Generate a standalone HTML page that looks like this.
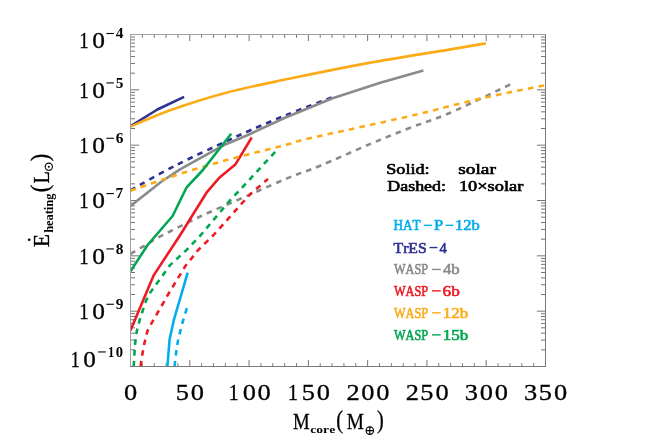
<!DOCTYPE html>
<html><head><meta charset="utf-8"><title>chart</title>
<style>html,body{margin:0;padding:0;background:#fff;}svg{display:block;will-change:transform;}text{font-family:"Liberation Serif",serif;font-kerning:none;font-variant-ligatures:none;}</style></head><body>
<svg width="654" height="436" viewBox="0 0 654 436">
<rect width="654" height="436" fill="#fff"/>
<path d="M130.50 366.50h8.6M545.50 366.50h-8.6M130.50 349.84h4.5M545.50 349.84h-4.5M130.50 340.10h4.5M545.50 340.10h-4.5M130.50 333.19h4.5M545.50 333.19h-4.5M130.50 327.82h4.5M545.50 327.82h-4.5M130.50 323.44h4.5M545.50 323.44h-4.5M130.50 319.74h4.5M545.50 319.74h-4.5M130.50 316.53h4.5M545.50 316.53h-4.5M130.50 313.70h4.5M545.50 313.70h-4.5M130.50 311.17h8.6M545.50 311.17h-8.6M130.50 294.51h4.5M545.50 294.51h-4.5M130.50 284.77h4.5M545.50 284.77h-4.5M130.50 277.85h4.5M545.50 277.85h-4.5M130.50 272.49h4.5M545.50 272.49h-4.5M130.50 268.11h4.5M545.50 268.11h-4.5M130.50 264.40h4.5M545.50 264.40h-4.5M130.50 261.20h4.5M545.50 261.20h-4.5M130.50 258.37h4.5M545.50 258.37h-4.5M130.50 255.83h8.6M545.50 255.83h-8.6M130.50 239.18h4.5M545.50 239.18h-4.5M130.50 229.43h4.5M545.50 229.43h-4.5M130.50 222.52h4.5M545.50 222.52h-4.5M130.50 217.16h4.5M545.50 217.16h-4.5M130.50 212.78h4.5M545.50 212.78h-4.5M130.50 209.07h4.5M545.50 209.07h-4.5M130.50 205.86h4.5M545.50 205.86h-4.5M130.50 203.03h4.5M545.50 203.03h-4.5M130.50 200.50h8.6M545.50 200.50h-8.6M130.50 183.84h4.5M545.50 183.84h-4.5M130.50 174.10h4.5M545.50 174.10h-4.5M130.50 167.19h4.5M545.50 167.19h-4.5M130.50 161.82h4.5M545.50 161.82h-4.5M130.50 157.44h4.5M545.50 157.44h-4.5M130.50 153.74h4.5M545.50 153.74h-4.5M130.50 150.53h4.5M545.50 150.53h-4.5M130.50 147.70h4.5M545.50 147.70h-4.5M130.50 145.17h8.6M545.50 145.17h-8.6M130.50 128.51h4.5M545.50 128.51h-4.5M130.50 118.77h4.5M545.50 118.77h-4.5M130.50 111.85h4.5M545.50 111.85h-4.5M130.50 106.49h4.5M545.50 106.49h-4.5M130.50 102.11h4.5M545.50 102.11h-4.5M130.50 98.40h4.5M545.50 98.40h-4.5M130.50 95.20h4.5M545.50 95.20h-4.5M130.50 92.37h4.5M545.50 92.37h-4.5M130.50 89.83h8.6M545.50 89.83h-8.6M130.50 73.18h4.5M545.50 73.18h-4.5M130.50 63.43h4.5M545.50 63.43h-4.5M130.50 56.52h4.5M545.50 56.52h-4.5M130.50 51.16h4.5M545.50 51.16h-4.5M130.50 46.78h4.5M545.50 46.78h-4.5M130.50 43.07h4.5M545.50 43.07h-4.5M130.50 39.86h4.5M545.50 39.86h-4.5M130.50 37.03h4.5M545.50 37.03h-4.5M130.50 34.50h8.6M545.50 34.50h-8.6M130.50 366.50v-6.6M130.50 34.50v6.6M142.36 366.50v-3.3M142.36 34.50v3.3M154.21 366.50v-3.3M154.21 34.50v3.3M166.07 366.50v-3.3M166.07 34.50v3.3M177.93 366.50v-3.3M177.93 34.50v3.3M189.79 366.50v-6.6M189.79 34.50v6.6M201.64 366.50v-3.3M201.64 34.50v3.3M213.50 366.50v-3.3M213.50 34.50v3.3M225.36 366.50v-3.3M225.36 34.50v3.3M237.21 366.50v-3.3M237.21 34.50v3.3M249.07 366.50v-6.6M249.07 34.50v6.6M260.93 366.50v-3.3M260.93 34.50v3.3M272.79 366.50v-3.3M272.79 34.50v3.3M284.64 366.50v-3.3M284.64 34.50v3.3M296.50 366.50v-3.3M296.50 34.50v3.3M308.36 366.50v-6.6M308.36 34.50v6.6M320.21 366.50v-3.3M320.21 34.50v3.3M332.07 366.50v-3.3M332.07 34.50v3.3M343.93 366.50v-3.3M343.93 34.50v3.3M355.79 366.50v-3.3M355.79 34.50v3.3M367.64 366.50v-6.6M367.64 34.50v6.6M379.50 366.50v-3.3M379.50 34.50v3.3M391.36 366.50v-3.3M391.36 34.50v3.3M403.21 366.50v-3.3M403.21 34.50v3.3M415.07 366.50v-3.3M415.07 34.50v3.3M426.93 366.50v-6.6M426.93 34.50v6.6M438.79 366.50v-3.3M438.79 34.50v3.3M450.64 366.50v-3.3M450.64 34.50v3.3M462.50 366.50v-3.3M462.50 34.50v3.3M474.36 366.50v-3.3M474.36 34.50v3.3M486.21 366.50v-6.6M486.21 34.50v6.6M498.07 366.50v-3.3M498.07 34.50v3.3M509.93 366.50v-3.3M509.93 34.50v3.3M521.79 366.50v-3.3M521.79 34.50v3.3M533.64 366.50v-3.3M533.64 34.50v3.3M545.50 366.50v-6.6M545.50 34.50v6.6" stroke="#000" stroke-width="0.55" fill="none"/>
<clipPath id="c"><rect x="130.5" y="34.5" width="415.00" height="332.00"/></clipPath>
<g clip-path="url(#c)" fill="none" stroke-width="2.6" stroke-linejoin="round">
<path d="M167.4 366.4L168.4 353.8L169.6 339.5L173.8 320.2L179.7 300.0L187.7 272.6" stroke="#00aeef"/>
<path d="M174.6 366.4L175.5 357.2L178.0 340.4L182.2 323.5L186.9 308.1" stroke="#00aeef" stroke-dasharray="5.6 5.2"/>
<path d="M130.6 126.1L157.4 109.5L184.1 96.9" stroke="#2e3192"/>
<path d="M130.6 190.2C138.0 186.1 159.4 173.7 175.2 165.6C191.0 157.5 214.0 147.1 225.3 141.8C236.6 136.5 233.0 138.0 242.9 133.6C252.8 129.2 270.1 121.6 285.0 115.5C299.9 109.4 324.7 100.1 332.6 97.0" stroke="#2e3192" stroke-dasharray="5.6 5.2"/>
<path d="M130.5 206.0L160.9 182.0L180.0 169.3L207.5 154.2L225.9 144.2L247.9 135.0L285.0 117.8L332.6 98.2L380.3 82.7L423.4 70.4" stroke="#8a8a8a"/>
<path d="M130.5 253.8C133.8 251.9 145.5 245.2 150.0 242.5C154.5 239.8 149.2 242.1 157.6 237.8C166.0 233.5 184.7 223.7 200.2 216.5C215.7 209.3 235.6 200.9 250.4 194.4C265.2 187.9 277.4 182.4 289.0 177.6C300.6 172.8 306.6 171.3 320.2 165.7C333.8 160.1 355.6 150.2 370.4 143.9C385.2 137.7 395.9 133.3 409.0 128.2C422.1 123.1 432.0 120.6 449.0 113.3C466.0 106.0 500.6 89.0 510.9 84.2" stroke="#8a8a8a" stroke-dasharray="5.6 5.2"/>
<path d="M130.5 330.5L153.8 275.1L180.2 235.0L206.5 192.7L219.0 178.1L235.3 164.6L251.7 137.5" stroke="#ed1c24"/>
<path d="M140.6 366.4L141.8 357.2L144.3 343.7L147.4 331.1L152.8 321.0L164.5 300.8L167.6 295.2L185.2 266.3L198.2 250.0L213.6 235.0L250.4 193.9L268.0 179.0" stroke="#ed1c24" stroke-dasharray="5.6 5.2"/>
<path d="M130.6 126.6C137.2 123.9 154.3 115.8 170.1 110.2C185.9 104.6 205.5 98.1 225.3 92.9C245.1 87.7 265.3 83.8 289.0 78.8C312.7 73.8 341.0 68.0 367.7 63.1C394.4 58.2 429.3 52.9 449.0 49.6C468.7 46.3 479.8 44.4 485.9 43.4" stroke="#fbab18"/>
<path d="M130.6 190.7C135.9 188.8 151.0 183.4 162.6 179.6C174.2 175.8 187.7 171.3 200.2 167.6C212.7 163.8 223.0 161.0 237.8 157.1C252.6 153.2 277.2 147.2 289.0 144.1C300.8 141.0 288.8 143.1 308.8 138.5C328.8 133.9 385.6 121.7 409.0 116.3C432.4 110.9 435.5 109.6 449.0 106.3C462.5 103.0 474.1 99.9 490.1 96.4C506.2 92.9 536.1 87.1 545.3 85.2" stroke="#fbab18" stroke-dasharray="5.6 5.2"/>
<path d="M130.5 271.4L147.6 245.0L172.6 216.0L186.4 187.7L202.9 170.0L231.2 133.7" stroke="#00a651"/>
<path d="M133.7 366.4L134.3 355.5L135.1 343.7L136.8 331.1L140.1 318.5L146.0 300.8L150.1 292.7L170.1 265.1L186.5 250.0L200.8 235.0L230.3 200.0L244.9 184.6L276.6 150.3" stroke="#00a651" stroke-dasharray="5.6 5.2"/>
</g>
<path d="M130.5 34.0V367.0M130.0 34.5H546.0" stroke="#a0a0a0" stroke-width="1" fill="none"/>
<path d="M545.5 34.0V367.0M130.0 366.5H546.0" stroke="#787878" stroke-width="1" fill="none"/>
<text transform="translate(79.36,48.20) scale(0.8261,1.0000)" font-size="22.90" stroke="#000" stroke-width="0.3">1</text>
<text transform="translate(92.15,48.20) scale(1.1086,1.0000)" font-size="22.90" stroke="#000" stroke-width="0.3">0</text>
<path d="M106.4 33.50H113.9" stroke="#000" stroke-width="1.1"/>
<text transform="translate(115.84,37.90) scale(1.0500,1.0000)" font-size="14.65" font-weight="bold">4</text>
<text transform="translate(79.36,97.63) scale(0.8261,1.0000)" font-size="22.90" stroke="#000" stroke-width="0.3">1</text>
<text transform="translate(92.15,97.63) scale(1.1086,1.0000)" font-size="22.90" stroke="#000" stroke-width="0.3">0</text>
<path d="M106.4 82.93H113.9" stroke="#000" stroke-width="1.1"/>
<text transform="translate(115.78,87.73) scale(1.0500,1.0000)" font-size="14.65" font-weight="bold">5</text>
<text transform="translate(79.36,152.97) scale(0.8261,1.0000)" font-size="22.90" stroke="#000" stroke-width="0.3">1</text>
<text transform="translate(92.15,152.97) scale(1.1086,1.0000)" font-size="22.90" stroke="#000" stroke-width="0.3">0</text>
<path d="M106.4 138.27H113.9" stroke="#000" stroke-width="1.1"/>
<text transform="translate(115.77,143.07) scale(1.0500,1.0000)" font-size="14.65" font-weight="bold">6</text>
<text transform="translate(79.36,208.30) scale(0.8261,1.0000)" font-size="22.90" stroke="#000" stroke-width="0.3">1</text>
<text transform="translate(92.15,208.30) scale(1.1086,1.0000)" font-size="22.90" stroke="#000" stroke-width="0.3">0</text>
<path d="M106.4 193.60H113.9" stroke="#000" stroke-width="1.1"/>
<text transform="translate(115.55,198.40) scale(1.0500,1.0000)" font-size="14.65" font-weight="bold">7</text>
<text transform="translate(79.36,263.63) scale(0.8261,1.0000)" font-size="22.90" stroke="#000" stroke-width="0.3">1</text>
<text transform="translate(92.15,263.63) scale(1.1086,1.0000)" font-size="22.90" stroke="#000" stroke-width="0.3">0</text>
<path d="M106.4 248.93H113.9" stroke="#000" stroke-width="1.1"/>
<text transform="translate(115.80,253.73) scale(1.0500,1.0000)" font-size="14.65" font-weight="bold">8</text>
<text transform="translate(79.36,318.97) scale(0.8261,1.0000)" font-size="22.90" stroke="#000" stroke-width="0.3">1</text>
<text transform="translate(92.15,318.97) scale(1.1086,1.0000)" font-size="22.90" stroke="#000" stroke-width="0.3">0</text>
<path d="M106.4 304.27H113.9" stroke="#000" stroke-width="1.1"/>
<text transform="translate(115.87,309.07) scale(1.0500,1.0000)" font-size="14.65" font-weight="bold">9</text>
<text transform="translate(70.56,366.85) scale(0.8261,1.0000)" font-size="22.90" stroke="#000" stroke-width="0.3">1</text>
<text transform="translate(83.36,366.85) scale(1.0983,1.0000)" font-size="22.90" stroke="#000" stroke-width="0.3">0</text>
<path d="M98.0 351.95H105.8" stroke="#000" stroke-width="1.1"/>
<text transform="translate(107.90,356.55) scale(0.8529,1.0000)" font-size="14.65" font-weight="bold">1</text>
<text transform="translate(115.84,356.55) scale(0.9985,1.0000)" font-size="14.65" font-weight="bold">0</text>
<text transform="translate(124.09,400.00) scale(1.0965,1.0000)" font-size="24.10" stroke="#000" stroke-width="0.3">0</text>
<text transform="translate(175.69,400.00) scale(1.0953,1.0000)" font-size="24.10" stroke="#000" stroke-width="0.3">5</text>
<text transform="translate(190.83,400.00) scale(1.0965,1.0000)" font-size="24.10" stroke="#000" stroke-width="0.3">0</text>
<text transform="translate(228.58,400.00) scale(0.8557,1.0000)" font-size="24.10" stroke="#000" stroke-width="0.3">1</text>
<text transform="translate(242.66,400.00) scale(1.0965,1.0000)" font-size="24.10" stroke="#000" stroke-width="0.3">0</text>
<text transform="translate(257.56,400.00) scale(1.0965,1.0000)" font-size="24.10" stroke="#000" stroke-width="0.3">0</text>
<text transform="translate(287.86,400.00) scale(0.8557,1.0000)" font-size="24.10" stroke="#000" stroke-width="0.3">1</text>
<text transform="translate(301.71,400.00) scale(1.0953,1.0000)" font-size="24.10" stroke="#000" stroke-width="0.3">5</text>
<text transform="translate(316.85,400.00) scale(1.0965,1.0000)" font-size="24.10" stroke="#000" stroke-width="0.3">0</text>
<text transform="translate(346.49,400.00) scale(1.0952,1.0000)" font-size="24.10" stroke="#000" stroke-width="0.3">2</text>
<text transform="translate(361.24,400.00) scale(1.0965,1.0000)" font-size="24.10" stroke="#000" stroke-width="0.3">0</text>
<text transform="translate(376.14,400.00) scale(1.0965,1.0000)" font-size="24.10" stroke="#000" stroke-width="0.3">0</text>
<text transform="translate(405.78,400.00) scale(1.0952,1.0000)" font-size="24.10" stroke="#000" stroke-width="0.3">2</text>
<text transform="translate(420.28,400.00) scale(1.0953,1.0000)" font-size="24.10" stroke="#000" stroke-width="0.3">5</text>
<text transform="translate(435.42,400.00) scale(1.0965,1.0000)" font-size="24.10" stroke="#000" stroke-width="0.3">0</text>
<text transform="translate(464.80,400.00) scale(1.0959,1.0000)" font-size="24.10" stroke="#000" stroke-width="0.3">3</text>
<text transform="translate(479.81,400.00) scale(1.0965,1.0000)" font-size="24.10" stroke="#000" stroke-width="0.3">0</text>
<text transform="translate(494.71,400.00) scale(1.0965,1.0000)" font-size="24.10" stroke="#000" stroke-width="0.3">0</text>
<text transform="translate(524.08,400.00) scale(1.0959,1.0000)" font-size="24.10" stroke="#000" stroke-width="0.3">3</text>
<text transform="translate(538.85,400.00) scale(1.0953,1.0000)" font-size="24.10" stroke="#000" stroke-width="0.3">5</text>
<text transform="translate(553.99,400.00) scale(1.0965,1.0000)" font-size="24.10" stroke="#000" stroke-width="0.3">0</text>
<text transform="translate(292.88,429.25) scale(0.7892,1.0000)" font-size="23.80" stroke="#000" stroke-width="0.3">M</text>
<text transform="translate(310.29,432.80) scale(1.2147,1.0000)" font-size="11.20" font-weight="bold">core</text>
<text transform="translate(336.24,428.23) scale(1.0318,1.2959)" font-size="20.0" stroke="#000" stroke-width="0.25">(</text>
<text transform="translate(346.71,429.25) scale(0.8120,1.0000)" font-size="23.80" stroke="#000" stroke-width="0.3">M</text>
<g stroke="#000" stroke-width="1.1" fill="none"><circle cx="369.8" cy="430.6" r="3.75"/><path d="M366 430.6h7.6M369.8 426.8v7.6"/></g>
<text transform="translate(377.00,428.23) scale(1.0123,1.2959)" font-size="20.0" stroke="#000" stroke-width="0.25">)</text>
<g transform="translate(48.85,246.75) rotate(-90)">
<text transform="translate(-0.51,0.00) scale(0.9740,1.0000)" font-size="22.30" stroke="#000" stroke-width="0.3">E</text>
<circle cx="6.95" cy="-19.65" r="1.3" fill="#000"/>
<text transform="translate(13.89,3.85) scale(1.0771,1.0000)" font-size="11.50" font-weight="bold">heating</text>
<text transform="translate(54.41,-0.81) scale(1.1291,1.2242)" font-size="20.0" stroke="#000" stroke-width="0.25">(</text>
<text transform="translate(63.14,0.00) scale(0.9072,1.0000)" font-size="22.30" stroke="#000" stroke-width="0.3">L</text>
<circle cx="80.05" cy="-0.05" r="3.6" stroke="#000" stroke-width="1.1" fill="none"/><circle cx="80.05" cy="-0.05" r="1" fill="#000"/>
<text transform="translate(85.57,-0.81) scale(1.1291,1.2242)" font-size="20.0" stroke="#000" stroke-width="0.25">)</text>
</g>
<text transform="translate(386.27,173.75) scale(1.2442,1.0000)" font-size="14.60" stroke="#000" stroke-width="0.6">Solid:</text>
<text transform="translate(458.30,173.75) scale(1.3243,1.0000)" font-size="14.60" stroke="#000" stroke-width="0.6">solar</text>
<text transform="translate(387.27,191.25) scale(1.2289,1.0000)" font-size="14.60" stroke="#000" stroke-width="0.6">Dashed:</text>
<text transform="translate(458.88,191.25) scale(1.2574,1.0000)" font-size="14.60" stroke="#000" stroke-width="0.6">10×solar</text>
<text transform="translate(393.46,230.30) scale(0.9055,1.0000)" font-size="14.60" stroke="#00aeef" stroke-width="0.6" fill="#00aeef">HAT</text><path d="M423.75 225.35H432.05" stroke="#00aeef" stroke-width="1.4"/><text transform="translate(433.91,230.30) scale(1.1413,1.0000)" font-size="14.60" stroke="#00aeef" stroke-width="0.6" fill="#00aeef">P</text><path d="M445.55 225.35H453.45" stroke="#00aeef" stroke-width="1.4"/><text transform="translate(455.04,230.30) scale(1.1326,1.0000)" font-size="14.60" stroke="#00aeef" stroke-width="0.6" fill="#00aeef">12b</text>
<text transform="translate(393.56,252.50) scale(1.0749,1.0000)" font-size="14.60" stroke="#2e3192" stroke-width="0.6" fill="#2e3192">TrES</text><path d="M429.55 247.55H437.45" stroke="#2e3192" stroke-width="1.4"/><text transform="translate(439.41,252.50) scale(0.9902,1.0000)" font-size="14.60" stroke="#2e3192" stroke-width="0.6" fill="#2e3192">4</text>
<text transform="translate(393.98,274.40) scale(0.8437,1.0000)" font-size="14.60" stroke="#8a8a8a" stroke-width="0.6" fill="#8a8a8a">WASP</text><path d="M432.05 269.45H440.75" stroke="#8a8a8a" stroke-width="1.4"/><text transform="translate(442.96,274.40) scale(1.1498,1.0000)" font-size="14.60" stroke="#8a8a8a" stroke-width="0.6" fill="#8a8a8a">4b</text>
<text transform="translate(393.98,295.80) scale(0.8437,1.0000)" font-size="14.60" stroke="#ed1c24" stroke-width="0.6" fill="#ed1c24">WASP</text><path d="M432.05 290.85H440.75" stroke="#ed1c24" stroke-width="1.4"/><text transform="translate(442.55,295.80) scale(1.1791,1.0000)" font-size="14.60" stroke="#ed1c24" stroke-width="0.6" fill="#ed1c24">6b</text>
<text transform="translate(393.98,317.80) scale(0.8437,1.0000)" font-size="14.60" stroke="#fbab18" stroke-width="0.6" fill="#fbab18">WASP</text><path d="M432.05 312.85H440.75" stroke="#fbab18" stroke-width="1.4"/><text transform="translate(442.69,317.80) scale(1.1675,1.0000)" font-size="14.60" stroke="#fbab18" stroke-width="0.6" fill="#fbab18">12b</text>
<text transform="translate(393.98,339.80) scale(0.8437,1.0000)" font-size="14.60" stroke="#00a651" stroke-width="0.6" fill="#00a651">WASP</text><path d="M432.05 334.85H440.75" stroke="#00a651" stroke-width="1.4"/><text transform="translate(442.69,339.80) scale(1.1675,1.0000)" font-size="14.60" stroke="#00a651" stroke-width="0.6" fill="#00a651">15b</text>
</svg></body></html>
